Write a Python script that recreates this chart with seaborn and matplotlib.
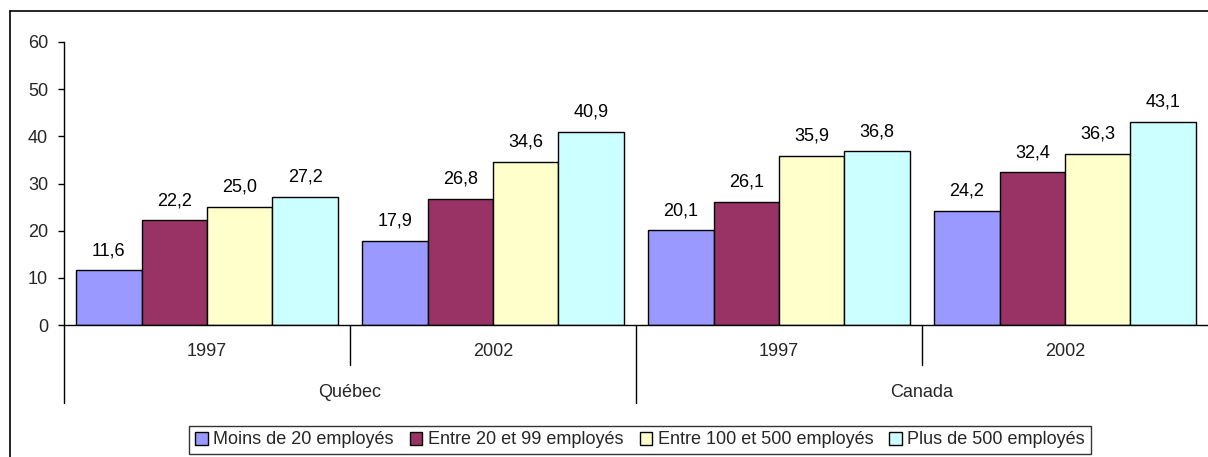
import matplotlib
matplotlib.use("Agg")
import matplotlib.pyplot as plt
import seaborn as sns
import pandas as pd
from matplotlib.lines import Line2D

regions = ["Québec", "Québec", "Canada", "Canada"]
years = ["1997", "2002", "1997", "2002"]
series = ["Moins de 20 employés", "Entre 20 et 99 employés",
          "Entre 100 et 500 employés", "Plus de 500 employés"]
moins_20 = [11.6, 17.9, 20.1, 24.2]
entre_20_99 = [22.2, 26.8, 26.1, 32.4]
entre_100_500 = [25.0, 34.6, 35.9, 36.3]
plus_500 = [27.2, 40.9, 36.8, 43.1]
colors = ["#9999FF", "#993366", "#FFFFCC", "#CCFFFF"]

sns.set_theme(style="white")
plt.rcParams['font.family'] = ['Liberation Sans', 'DejaVu Sans']

groups = [f"{r} {y}" for r, y in zip(regions, years)]
rows = []
for s, vals in zip(series, [moins_20, entre_20_99, entre_100_500, plus_500]):
    for g, v in zip(groups, vals):
        rows.append({"group": g, "series": s, "value": v})
df = pd.DataFrame(rows)

FS = 13

fig = plt.figure(figsize=(12.08, 4.57), dpi=100)
ax = fig.add_axes([64/1208, 132/457, 1 - 64/1208, 283/457])

sns.barplot(data=df, x="group", y="value", hue="series", order=groups,
            hue_order=series, palette=colors, width=0.915, gap=0,
            edgecolor="black", linewidth=1, saturation=1, ax=ax, legend=True)

for cont in ax.containers:
    ax.bar_label(cont, labels=[f"{b.get_height():.1f}".replace(".", ",") for b in cont],
                 padding=8, fontsize=FS, color="black")

ax.set_xlim(-0.5, 3.5)
ax.set_ylim(0, 60)
ax.set_yticks(range(0, 61, 10))
ax.tick_params(axis="y", length=4.5, width=1, color="black", labelsize=FS, pad=7, left=True)
ax.set_xticks(range(4))
ax.set_xticklabels(years)
ax.tick_params(axis="x", length=0, labelsize=FS, pad=13)
ax.set_xlabel("")
ax.set_ylabel("")
for side in ["top", "right"]:
    ax.spines[side].set_visible(False)
ax.spines["left"].set_color("black")
ax.spines["bottom"].set_color("black")
ax.spines["left"].set_linewidth(1)
ax.spines["bottom"].set_linewidth(1)

# category separators
for x, depth in [(-0.5, -16.5), (0.5, -8.5), (1.5, -16.5), (2.5, -8.5)]:
    ax.plot([x, x], [0, depth], color="black", lw=1, clip_on=False)

# region labels
for i, r in enumerate(["Québec", "Canada"]):
    ax.text(0.5 + 2 * i, -14.3, r, ha="center", va="center", fontsize=FS)

handles, labels = ax.get_legend_handles_labels()
ax.legend_.remove()
leg = fig.legend(handles, labels, ncol=4, loc="center", bbox_to_anchor=(640/1208, 17/457),
                 frameon=True, fancybox=False, edgecolor="black", fontsize=FS,
                 handlelength=0.7, handleheight=0.7, handletextpad=0.3, columnspacing=0.9,
                 borderpad=0.3, borderaxespad=0)
leg.get_frame().set_linewidth(1)

# outer frame (left and top)
fig.add_artist(Line2D([10/1208, 10/1208], [0, 1 - 11/457], color="black", lw=1.2, transform=fig.transFigure))
fig.add_artist(Line2D([10/1208, 1], [1 - 11/457, 1 - 11/457], color="black", lw=1.2, transform=fig.transFigure))

fig.savefig("out.png", dpi=100)
